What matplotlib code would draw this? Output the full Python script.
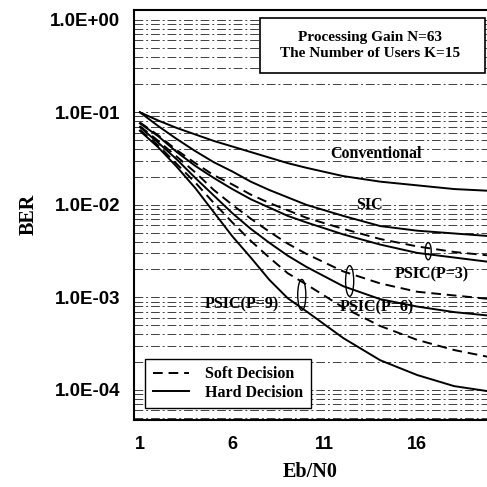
import numpy as np
import matplotlib
matplotlib.use("Agg")
import matplotlib.pyplot as plt
from matplotlib.patches import Ellipse, Rectangle

# Eb/N0 points and log10(BER)
ebn0 = [1, 2, 3, 4, 5, 6, 7, 8, 9, 10, 12, 14, 16, 18, 20]

conv = [-1.00, -1.09, -1.17, -1.24, -1.31, -1.37, -1.43, -1.49, -1.55, -1.60, -1.69, -1.75, -1.79, -1.83, -1.85]
sic = [-1.00, -1.15, -1.29, -1.42, -1.54, -1.64, -1.75, -1.84, -1.92, -2.00, -2.12, -2.23, -2.28, -2.31, -2.34]
p3_hard = [-1.12, -1.26, -1.43, -1.58, -1.71, -1.83, -1.94, -2.03, -2.12, -2.19, -2.32, -2.43, -2.52, -2.57, -2.62]
p3_soft = [-1.11, -1.25, -1.41, -1.55, -1.68, -1.78, -1.89, -1.98, -2.06, -2.14, -2.26, -2.37, -2.45, -2.51, -2.55]
p6_hard = [-1.16, -1.33, -1.51, -1.71, -1.90, -2.09, -2.26, -2.41, -2.55, -2.67, -2.88, -3.02, -3.10, -3.16, -3.20]
p6_soft = [-1.15, -1.31, -1.48, -1.65, -1.84, -2.00, -2.15, -2.29, -2.42, -2.53, -2.72, -2.85, -2.94, -2.98, -3.02]
p9_hard = [-1.20, -1.38, -1.59, -1.82, -2.08, -2.34, -2.57, -2.81, -3.01, -3.15, -3.44, -3.68, -3.84, -3.96, -4.02]
p9_soft = [-1.19, -1.36, -1.56, -1.76, -1.98, -2.19, -2.39, -2.57, -2.74, -2.86, -3.11, -3.31, -3.46, -3.57, -3.65]

x_ticks = [1, 6, 11, 16]
y_ticks = [1e0, 1e-1, 1e-2, 1e-3, 1e-4]
y_tick_labels = ["1.0E+00", "1.0E-01", "1.0E-02", "1.0E-03", "1.0E-04"]

# where the P groups are circled
ring_x = {"p3": 16.6, "p6": 12.35, "p9": 9.76}

SERIF = "Liberation Serif"
SANS = "Liberation Sans"
DASH = (0, (5, 3))

fig = plt.figure(figsize=(4.87, 4.87), dpi=100)
ax = fig.add_axes([0.275, 0.138, 0.725, 0.842])

x = np.array(ebn0)
def ber(v):
    return 10 ** np.array(v)

lw = 1.4
ax.plot(x, ber(conv), color="black", lw=lw)
ax.plot(x, ber(sic), color="black", lw=lw)
ax.plot(x, ber(p3_soft), color="black", lw=lw, ls=DASH, label="Soft Decision")
ax.plot(x, ber(p3_hard), color="black", lw=lw, label="Hard Decision")
ax.plot(x, ber(p6_soft), color="black", lw=lw, ls=DASH)
ax.plot(x, ber(p6_hard), color="black", lw=lw)
ax.plot(x, ber(p9_soft), color="black", lw=lw, ls=DASH)
ax.plot(x, ber(p9_hard), color="black", lw=lw)

ax.set_yscale("log")
ax.set_xlim(0.68, 19.78)
ax.set_ylim(10 ** -4.324, 10 ** 0.108)

ax.set_xticks(x_ticks)
ax.set_xticklabels([str(t) for t in x_ticks], fontfamily=SANS, fontweight="bold", fontsize=13)
ax.set_yticks(y_ticks)
ax.set_yticklabels(y_tick_labels, fontfamily=SANS, fontweight="bold", fontsize=13.5)
ax.yaxis.set_minor_formatter(plt.NullFormatter())
ax.tick_params(axis="both", which="both", length=0)
ax.tick_params(axis="x", pad=12)
ax.tick_params(axis="y", pad=10)

# broken-looking horizontal grid lines
ax.grid(True, axis="y", which="both", color="0.25", lw=0.7, ls=(0, (9, 3, 2, 3)))
ax.set_axisbelow(True)

for s in ["top", "bottom", "left"]:
    ax.spines[s].set_linewidth(1.5)
ax.spines["right"].set_visible(False)

ax.set_xlabel("Eb/N0", fontfamily=SERIF, fontweight="bold", fontsize=14.5, labelpad=6)
ax.set_ylabel("BER", fontfamily=SERIF, fontweight="bold", fontsize=14.5, labelpad=8)

lbl = dict(fontfamily=SERIF, fontweight="bold", fontsize=11.5, ha="center", va="center")
ax.text(13.8, 0.0356, "Conventional", **lbl)
ax.text(13.43, 0.0100, "SIC", **lbl)
ax.text(16.78, 0.00175, "PSIC(P=3)", **lbl)
ax.text(13.81, 0.00077, "PSIC(P=6)", **lbl)
ax.text(6.51, 0.00083, "PSIC(P=9)", **lbl)

ax.add_patch(Rectangle((0.357, 0.846), 0.638, 0.134, transform=ax.transAxes,
                       fc="white", ec="black", lw=1.2, zorder=4))
ax.text(0.669, 0.913, "Processing Gain N=63\nThe Number of Users K=15", transform=ax.transAxes,
        fontfamily=SERIF, fontweight="bold", fontsize=11, ha="center", va="center",
        linespacing=1.35, zorder=5)

leg = ax.legend(loc="lower left", bbox_to_anchor=(0.01, 0.01), fancybox=False,
                edgecolor="black", framealpha=1, handlelength=2.3,
                prop=dict(family=SERIF, weight="bold", size=11.5), borderpad=0.45,
                labelspacing=0.15, handletextpad=1.0)
leg.get_frame().set_linewidth(1.0)

# small rings around each soft/hard pair
fig.canvas.draw()
to_axes = ax.transAxes.inverted()
pairs = {"p3": (p3_soft, p3_hard, 0.017, 0.042),
         "p6": (p6_soft, p6_hard, 0.023, 0.075),
         "p9": (p9_soft, p9_hard, 0.023, 0.075)}
for key, (soft, hard, w, h) in pairs.items():
    xr = ring_x[key]
    ys = 10 ** np.interp(xr, x, soft)
    yh = 10 ** np.interp(xr, x, hard)
    cx, cy = to_axes.transform(ax.transData.transform((xr, np.sqrt(ys * yh))))
    ax.add_patch(Ellipse((cx, cy), w, h, transform=ax.transAxes, fill=False,
                         ec="black", lw=1.0, zorder=5))

fig.savefig("out.png", dpi=100)
